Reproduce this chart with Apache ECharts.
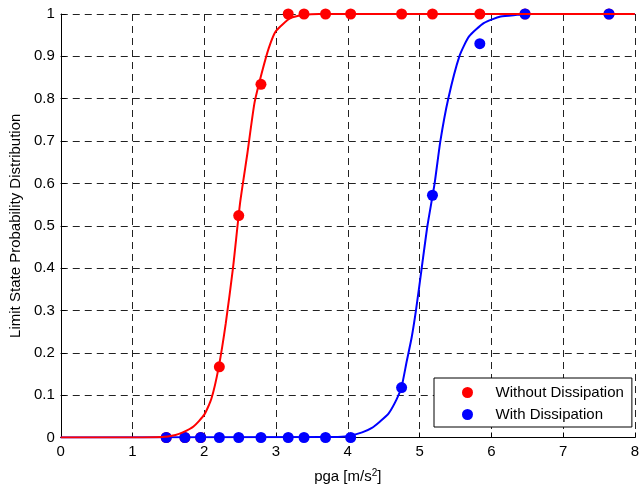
<!DOCTYPE html>
<html>
<head>
<meta charset="utf-8">
<script src="https://cdn.jsdelivr.net/npm/echarts@6/dist/echarts.min.js"></script>
<style>
  html, body { margin: 0; padding: 0; background: #fff; }
  #chart { width: 642px; height: 489px; }
</style>
</head>
<body>
<div id="chart"></div>
<script>
// measured points (pga, probability)
const pgaPts = [1.47, 1.73, 1.95, 2.21, 2.48, 2.79, 3.17, 3.39, 3.69, 4.04, 4.75, 5.18, 5.84, 6.47, 7.64]
const pfWithout = [0, 0, 0, 0.167, 0.524, 0.834, 1, 1, 1, 1, 1, 1, 1, 1, 1]
const pfWith = [0, 0, 0, 0, 0, 0, 0, 0, 0, 0, 0.118, 0.572, 0.930, 1, 1]

// fitted curves
const redCurveX = [0, 1.0, 1.4, 1.6, 1.7, 1.85, 2.0, 2.1, 2.2, 2.3, 2.4, 2.5, 2.6, 2.7, 2.8, 2.9, 3.0, 3.2, 3.4, 3.6, 8]
const redCurveY = [0, 0, 0.001, 0.006, 0.012, 0.026, 0.054, 0.092, 0.165, 0.27, 0.40, 0.555, 0.67, 0.79, 0.86, 0.92, 0.96, 0.99, 0.998, 1, 1]
const blueCurveX = [0, 3.8, 4.0, 4.2, 4.33, 4.45, 4.57, 4.68, 4.75, 4.82, 4.89, 4.95, 5.03, 5.11, 5.21, 5.29, 5.40, 5.555, 5.69, 5.9, 6.13, 6.36, 6.5, 8]
const blueCurveY = [0, 0.001, 0.003, 0.012, 0.022, 0.038, 0.057, 0.09, 0.12, 0.179, 0.236, 0.3, 0.4, 0.5, 0.6, 0.7, 0.8, 0.9, 0.947, 0.979, 0.994, 0.998, 1, 1]

const xTicks = { min: 0, max: 8, interval: 1 }
const yTicks = { min: 0, max: 1, interval: 0.1 }

const zip = (xs, ys) => xs.map((x, i) => [x, ys[i]])

const font = 'Liberation Sans, Arial, Helvetica, sans-serif'
const gridLine = { show: true, lineStyle: { color: '#222', type: [7, 5], width: 1 } }
const axisLine = { show: true, onZero: false, lineStyle: { color: '#000', width: 1 } }
const axisTick = { show: true, inside: true, length: 5, lineStyle: { color: '#000' } }

const chart = echarts.init(document.getElementById('chart'))
chart.setOption({
  animation: false,
  backgroundColor: '#fff',
  grid: { left: 60, right: 3, top: 14, bottom: 50 },
  legend: {
    data: [
      { name: 'Without Dissipation', icon: 'circle', itemStyle: { opacity: 1 } },
      { name: 'With Dissipation', icon: 'circle', itemStyle: { opacity: 1 } }
    ],
    orient: 'vertical',
    left: 434, top: 378,
    itemWidth: 46, itemHeight: 11, itemGap: 7,
    padding: [7, 8, 5, 28],
    borderColor: '#000', borderWidth: 1, borderRadius: 0,
    backgroundColor: '#fff',
    textStyle: { color: '#000', fontSize: 15, fontFamily: font, lineHeight: 14 }
  },
  xAxis: {
    type: 'value', ...xTicks,
    name: '{a|pga [m/s}{s|2}{a|]}', nameLocation: 'middle', nameGap: 31,
    nameTextStyle: {
      color: '#000', fontSize: 15, fontFamily: font,
      rich: {
        a: { fontSize: 15, fontFamily: font, color: '#000' },
        s: { fontSize: 10, fontFamily: font, color: '#000', verticalAlign: 'top', padding: [0, 0, 6, 0] }
      }
    },
    axisLine, axisTick, splitLine: gridLine,
    axisLabel: { color: '#000', fontSize: 15, fontFamily: font, margin: 7 }
  },
  yAxis: {
    type: 'value', ...yTicks,
    name: 'Limit State Probability Distribution', nameLocation: 'middle', nameGap: 36,
    nameTextStyle: { color: '#000', fontSize: 15, fontFamily: font },
    axisLine, axisTick, splitLine: gridLine,
    axisLabel: { color: '#000', fontSize: 15, fontFamily: font, margin: 6 }
  },
  series: [
    {
      name: 'Without Dissipation', type: 'scatter', data: zip(pgaPts, pfWithout),
      symbolSize: 11, itemStyle: { color: '#ff0000', opacity: 1 }, clip: false, z: 2
    },
    {
      name: 'With Dissipation', type: 'scatter', data: zip(pgaPts, pfWith),
      symbolSize: 11, itemStyle: { color: '#0000ff', opacity: 1 }, clip: false, z: 3
    },
    {
      name: 'blue fit', type: 'line', data: zip(blueCurveX, blueCurveY),
      showSymbol: false, smooth: 0.2, lineStyle: { color: '#0000ff', width: 2 }, z: 4
    },
    {
      name: 'red fit', type: 'line', data: zip(redCurveX, redCurveY),
      showSymbol: false, smooth: 0.2, lineStyle: { color: '#ff0000', width: 2 }, z: 5
    }
  ]
})
</script>
</body>
</html>
